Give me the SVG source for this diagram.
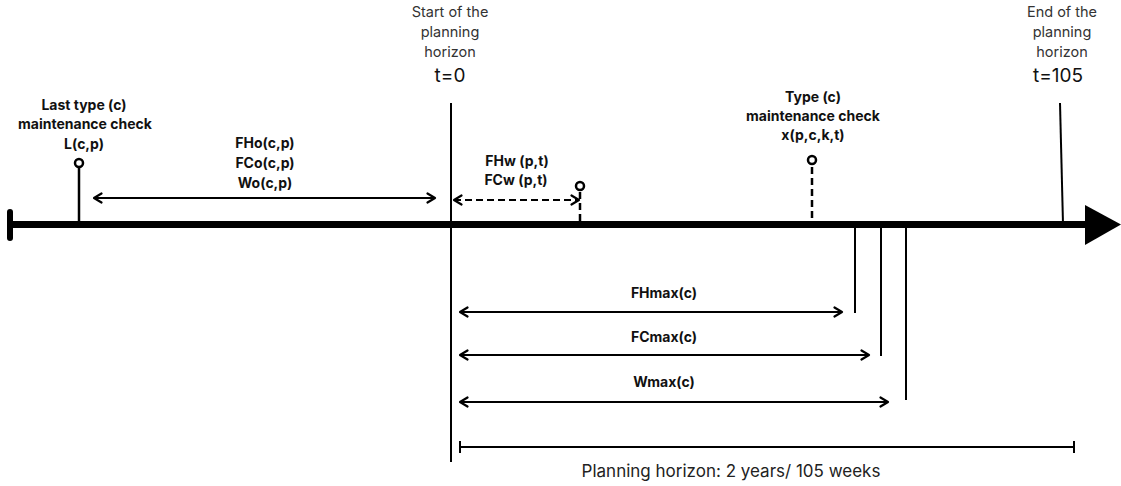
<svg xmlns="http://www.w3.org/2000/svg" width="1121" height="486" viewBox="0 0 1121 486">
<defs>
<marker id="chev" viewBox="0 0 12 12" refX="10.5" refY="6" markerWidth="12" markerHeight="12" markerUnits="userSpaceOnUse" orient="auto-start-reverse">
<path d="M3,1.5 L10.5,6 L3,10.5" fill="none" stroke="#000" stroke-width="2.2" stroke-linecap="round" stroke-linejoin="round"/>
</marker>
</defs>
<style>
.lbl{font-family:Inter,"Liberation Sans",sans-serif;font-weight:700;font-size:14px;fill:#111;text-anchor:middle}
.top{font-family:Inter,"Liberation Sans",sans-serif;font-size:14.5px;fill:#333;text-anchor:middle}
.t{font-family:Inter,"Liberation Sans",sans-serif;font-size:19px;fill:#111;text-anchor:middle}
.foot{font-family:Inter,"Liberation Sans",sans-serif;font-size:17px;fill:#222;text-anchor:middle}
.ln{stroke:#000;stroke-width:2;fill:none}
.stem{stroke:#000;stroke-width:2.5;fill:none}
.dbl{stroke:#000;stroke-width:2;fill:none;marker-start:url(#chev);marker-end:url(#chev)}
.dash{stroke-dasharray:7,4}
.pin{fill:#fff;stroke:#000;stroke-width:2.5}
</style>
<rect width="1121" height="486" fill="#fff"/>
<g id="axis">
<line x1="10" y1="224.5" x2="1090" y2="224.5" stroke="#000" stroke-width="7"/>
<line x1="10" y1="212" x2="10" y2="238" stroke="#000" stroke-width="6" stroke-linecap="round"/>
<polygon points="1085,205 1121,224.5 1085,245" fill="#000"/>
</g>
<g id="start">
<line class="ln" x1="451" y1="103" x2="451" y2="462"/>
<text class="top" x="450" y="17">Start of the</text>
<text class="top" x="450" y="37">planning</text>
<text class="top" x="450" y="57">horizon</text>
<text class="t" x="450" y="82">t=0</text>
</g>
<g id="end">
<line class="ln" x1="1060" y1="103" x2="1063" y2="224"/>
<text class="top" x="1062" y="17">End of the</text>
<text class="top" x="1062" y="37">planning</text>
<text class="top" x="1062" y="57">horizon</text>
<text class="t" x="1058" y="82">t=105</text>
</g>
<g id="last-check">
<line class="stem" x1="79" y1="167" x2="79" y2="224"/>
<circle class="pin" cx="79" cy="163" r="4"/>
<text class="lbl" x="84" y="110">Last type (c)</text>
<text class="lbl" x="85" y="129">maintenance check</text>
<text class="lbl" x="84" y="149">L(c,p)</text>
</g>
<g id="type-check">
<line class="stem dash" x1="812" y1="167" x2="812" y2="224"/>
<circle class="pin" cx="812" cy="160" r="4"/>
<text class="lbl" x="813" y="102">Type (c)</text>
<text class="lbl" x="813" y="121">maintenance check</text>
<text class="lbl" x="813" y="140">x(p,c,k,t)</text>
</g>
<g id="fhw-point">
<line class="stem dash" x1="580" y1="192" x2="580" y2="224"/>
<circle class="pin" cx="580" cy="186" r="4"/>
</g>
<g id="limits">
<line class="ln" x1="855" y1="228" x2="855" y2="313"/>
<line class="ln" x1="881" y1="228" x2="881" y2="356"/>
<line class="ln" x1="906" y1="228" x2="906" y2="400"/>
</g>
<g id="connectors">
<line class="dbl" x1="94" y1="198" x2="435" y2="198"/>
<line class="dbl dash" x1="454" y1="200" x2="579" y2="200"/>
<line class="dbl" x1="460" y1="312" x2="842" y2="312"/>
<line class="dbl" x1="460" y1="355" x2="869" y2="355"/>
<line class="dbl" x1="460" y1="402" x2="888" y2="402"/>
<line class="ln" x1="460" y1="447" x2="1074" y2="447"/>
<line class="ln" x1="460" y1="441" x2="460" y2="453"/>
<line class="ln" x1="1074" y1="441" x2="1074" y2="453"/>
</g>
<g id="labels">
<text class="lbl" x="265" y="148">FHo(c,p)</text>
<text class="lbl" x="265" y="168">FCo(c,p)</text>
<text class="lbl" x="265" y="188">Wo(c,p)</text>
<text class="lbl" x="517" y="166">FHw (p,t)</text>
<text class="lbl" x="516" y="185">FCw (p,t)</text>
<text class="lbl" x="664" y="298">FHmax(c)</text>
<text class="lbl" x="664" y="342">FCmax(c)</text>
<text class="lbl" x="664" y="387">Wmax(c)</text>
<text class="foot" x="731" y="477">Planning horizon: 2 years/ 105 weeks</text>
</g>
</svg>
